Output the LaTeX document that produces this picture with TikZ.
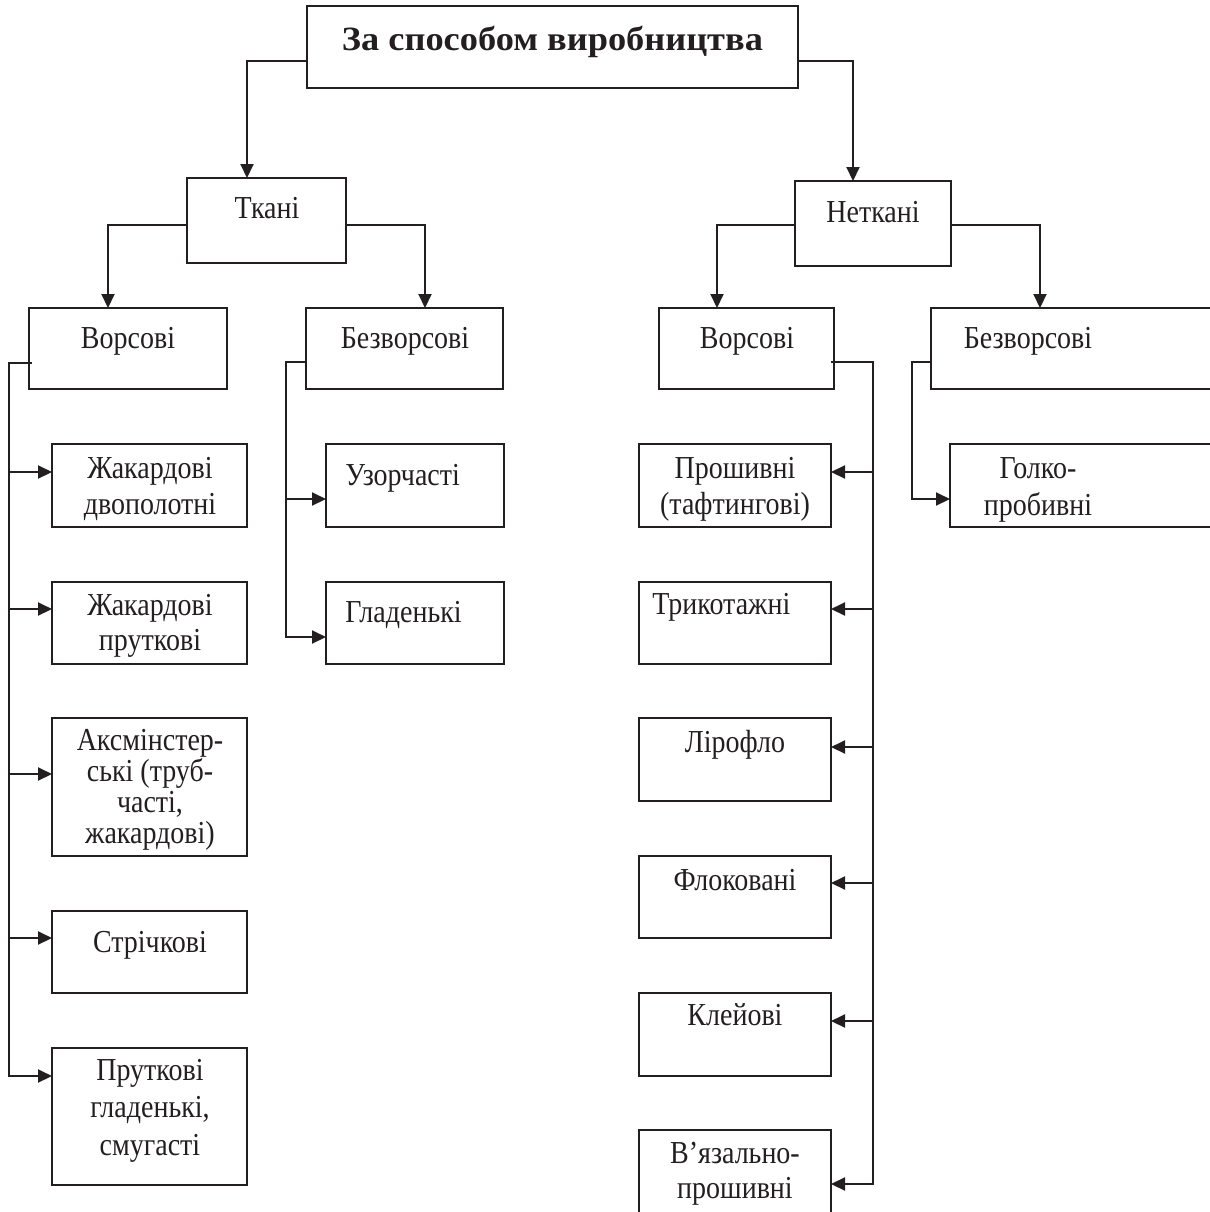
\documentclass[tikz,border=0pt]{standalone}
\usepackage{fontspec}
\setmainfont{Liberation Serif}
\newfontfamily\narrowserif[FakeStretch=0.875]{Liberation Serif}
\newfontfamily\wideserif[FakeStretch=1.07]{Liberation Serif}
\usetikzlibrary{arrows.meta}
\definecolor{ink}{RGB}{35,31,32}
\begin{document}
\begin{tikzpicture}[x=0.5pt,y=-0.5pt,
  box/.style={draw=ink, line width=1pt, inner sep=0pt, outer sep=0pt},
  con/.style={draw=ink, line width=1pt},
  arr/.style={con, -{Triangle[length=7pt,width=6.5pt]}},
  txt/.style={text=ink, anchor=base, align=center, inner sep=0pt, font=\narrowserif\fontsize{16pt}{18pt}\selectfont},
  ltxt/.style={txt, anchor=base west, align=left},
  ls/.style={font=\narrowserif\fontsize{16pt}{#1}\selectfont}]
\useasboundingbox (0,0) rectangle (1210,1212);
% boxes
\node[box, minimum width=245.5pt, minimum height=41pt] (top) at (552.5,47) {};
\node[box, minimum width=79.5pt, minimum height=42.5pt] (tk) at (266.5,220.5) {};
\node[box, minimum width=78pt, minimum height=42.5pt] (ntk) at (873,223.5) {};
\node[box, minimum width=99pt, minimum height=40.5pt] (lv) at (128,348.5) {};
\node[box, minimum width=98.5pt, minimum height=40.5pt] (lb) at (404.5,348.5) {};
\node[box, minimum width=87.5pt, minimum height=40.5pt] (rv) at (746.5,348.5) {};
\node[box, minimum width=150pt, minimum height=40.5pt] (rb) at (1081,348.5) {};
% left children
\node[box, minimum width=97.5pt, minimum height=41.5pt] (jd) at (149.5,485.5) {};
\node[box, minimum width=97.5pt, minimum height=41pt] (jp) at (149.5,623) {};
\node[box, minimum width=97.5pt, minimum height=69pt] (ak) at (149.5,787) {};
\node[box, minimum width=97.5pt, minimum height=41pt] (st) at (149.5,952) {};
\node[box, minimum width=97.5pt, minimum height=68.5pt] (pg) at (149.5,1116.5) {};
\node[box, minimum width=89pt, minimum height=41.5pt] (uz) at (415,485.5) {};
\node[box, minimum width=89pt, minimum height=41pt] (gl) at (415,623) {};
% right children
\node[box, minimum width=96pt, minimum height=41.5pt] (pr) at (735,485.5) {};
\node[box, minimum width=96pt, minimum height=41pt] (tr) at (735,623) {};
\node[box, minimum width=96pt, minimum height=41.5pt] (lf) at (735,759.5) {};
\node[box, minimum width=96pt, minimum height=41pt] (fl) at (735,897) {};
\node[box, minimum width=96pt, minimum height=41.5pt] (kl) at (735,1034.5) {};
\node[box, minimum width=96pt, minimum height=55pt] (vp) at (735,1185) {};
\node[box, minimum width=150pt, minimum height=41.5pt] (go) at (1100,485.5) {};
% texts
\node[txt, font=\wideserif\fontsize{17pt}{20pt}\selectfont\bfseries] at (552.5,50) {За способом виробництва};
\node[txt] at (267,218) {Ткані};
\node[txt] at (873,222) {Неткані};
\node[txt] at (128,348) {Ворсові};
\node[txt] at (405,348) {Безворсові};
\node[txt] at (747,348) {Ворсові};
\node[txt] at (1028,348) {Безворсові};
\node[txt] at (150,514) {Жакардові\\двополотні};
\node[txt, ls=17.5pt] at (150,650) {Жакардові\\пруткові};
\node[txt, ls=15.5pt] at (150,843) {Аксмінстер-\\ські (труб-\\часті,\\жакардові)};
\node[txt] at (150,952) {Стрічкові};
\node[txt, ls=18.75pt] at (150,1155) {Пруткові\\гладенькі,\\смугасті};
\node[ltxt] at (345,485) {Узорчасті};
\node[ltxt] at (345,622) {Гладенькі};
\node[txt] at (735,514) {Прошивні\\(тафтингові)};
\node[ltxt] at (652,614) {Трикотажні};
\node[txt] at (735,752) {Лірофло};
\node[txt] at (735,890) {Флоковані};
\node[txt] at (735,1025) {Клейові};
\node[txt, ls=17.5pt] at (735,1198) {В’язально-\\прошивні};
\node[txt, ls=18.5pt] at (1038,515) {Голко-\\пробивні};
% top-level connectors
\draw[arr] ([yshift=-7pt]top.west) -| ([xshift=-9.75pt]tk.north);
\draw[arr] ([yshift=-7pt]top.east) -| ([xshift=-10pt]ntk.north);
\draw[arr] ([yshift=-2.25pt]tk.west) -| ([xshift=-10pt]lv.north);
\draw[arr] ([yshift=-2.25pt]tk.east) -| ([xshift=10.25pt]lb.north);
\draw[arr] ([yshift=-0.75pt]ntk.west) -| ([xshift=-14.75pt]rv.north);
\draw[arr] ([yshift=-0.75pt]ntk.east) -| ([xshift=-20.5pt]rb.north);
% left Ворсові trunk
\coordinate (lt) at (9,363);
\coordinate (jdA) at ([yshift=-14pt]jd.north west);
\coordinate (jpA) at ([yshift=-13.5pt]jp.north west);
\coordinate (akA) at ([yshift=-28pt]ak.north west);
\coordinate (stA) at ([yshift=-13.5pt]st.north west);
\coordinate (pgA) at ([yshift=-14pt]pg.north west);
\draw[arr] ([xshift=1.5pt,yshift=-7.25pt]lv.west) -- (lt) |- (pgA);
\foreach \c in {jdA,jpA,akA,stA} \draw[arr] (lt |- \c) -- (\c);
% left Безворсові trunk
\coordinate (bt) at (286,362);
\coordinate (uzA) at ([yshift=-27.5pt]uz.north west);
\coordinate (glA) at ([yshift=-27.5pt]gl.north west);
\draw[arr] ([yshift=-6.75pt]lb.west) -- (bt) |- (glA);
\draw[arr] (bt |- uzA) -- (uzA);
% right Ворсові trunk
\coordinate (rt) at (873,362);
\coordinate (prA) at ([yshift=-14pt]pr.north east);
\coordinate (trA) at ([yshift=-13.5pt]tr.north east);
\coordinate (lfA) at ([yshift=-14.5pt]lf.north east);
\coordinate (flA) at ([yshift=-13.5pt]fl.north east);
\coordinate (klA) at ([yshift=-14pt]kl.north east);
\coordinate (vpA) at ([yshift=-27pt]vp.north east);
\draw[arr] ([xshift=-1.5pt,yshift=-6.75pt]rv.east) -- (rt) |- (vpA);
\foreach \c in {prA,trA,lfA,flA,klA} \draw[arr] (rt |- \c) -- (\c);
% right Безворсові trunk
\coordinate (nt) at (912,362);
\coordinate (goA) at ([yshift=-27.5pt]go.north west);
\draw[arr] ([yshift=-6.75pt]rb.west) -- (nt) |- (goA);
\end{tikzpicture}
\end{document}
